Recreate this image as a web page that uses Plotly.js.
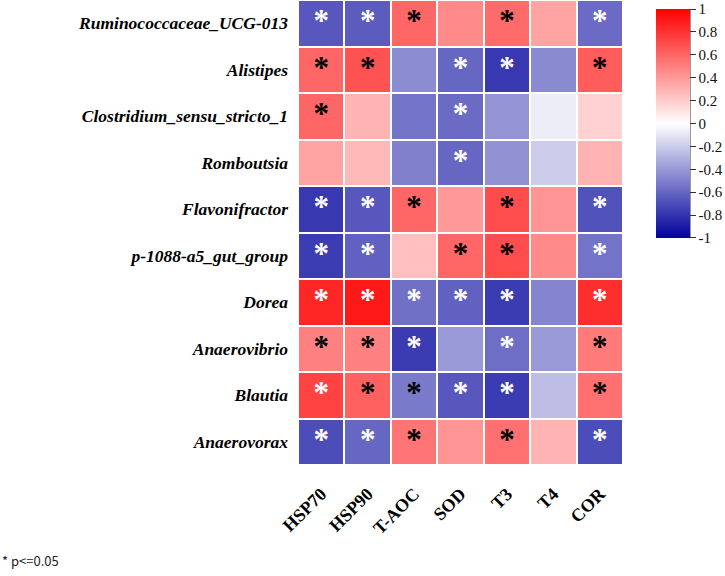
<!DOCTYPE html>
<html>
<head>
<meta charset="utf-8">
<script src="https://cdn.plot.ly/plotly-3.0.1.min.js"></script>
<style>
  html, body { margin: 0; padding: 0; background: #fff; }
  #chart { width: 725px; height: 576px; }
</style>
</head>
<body>
<div id="chart"></div>
<script>
// Genera (rows) and physiological indices (columns)
const genera = [
  'Ruminococcaceae_UCG-013', 'Alistipes', 'Clostridium_sensu_stricto_1',
  'Romboutsia', 'Flavonifractor', 'p-1088-a5_gut_group', 'Dorea',
  'Anaerovibrio', 'Blautia', 'Anaerovorax'
];
const indices = ['HSP70', 'HSP90', 'T-AOC', 'SOD', 'T3', 'T4', 'COR'];

// Correlation coefficients, one array per genus (columns follow `indices`)
const rRuminococcaceae = [-0.66, -0.64, 0.60, 0.46, 0.58, 0.36, -0.58];
const rAlistipes       = [0.60, 0.68, -0.45, -0.60, -0.78, -0.46, 0.64];
const rClostridium     = [0.60, 0.30, -0.55, -0.58, -0.42, -0.07, 0.18];
const rRomboutsia      = [0.36, 0.28, -0.50, -0.60, -0.43, -0.20, 0.30];
const rFlavonifractor  = [-0.78, -0.66, 0.60, 0.40, 0.70, 0.42, -0.68];
const rP1088           = [-0.76, -0.62, 0.25, 0.60, 0.70, 0.46, -0.55];
const rDorea           = [0.85, 0.90, -0.56, -0.62, -0.77, -0.48, 0.82];
const rAnaerovibrio    = [0.50, 0.50, -0.77, -0.40, -0.57, -0.40, 0.52];
const rBlautia         = [0.74, 0.62, -0.52, -0.66, -0.77, -0.26, 0.56];
const rAnaerovorax     = [-0.70, -0.60, 0.54, 0.42, 0.56, 0.30, -0.70];

// Significance marks (p <= 0.05): 'w' white star, 'k' black star, '' none
const sigRuminococcaceae = ['w', 'w', 'k', '', 'k', '', 'w'];
const sigAlistipes       = ['k', 'k', '', 'w', 'w', '', 'k'];
const sigClostridium     = ['k', '', '', 'w', '', '', ''];
const sigRomboutsia      = ['', '', '', 'w', '', '', ''];
const sigFlavonifractor  = ['w', 'w', 'k', '', 'k', '', 'w'];
const sigP1088           = ['w', 'w', '', 'k', 'k', '', 'w'];
const sigDorea           = ['w', 'w', 'w', 'w', 'w', '', 'w'];
const sigAnaerovibrio    = ['k', 'k', 'w', '', 'w', '', 'k'];
const sigBlautia         = ['w', 'k', 'k', 'w', 'w', '', 'k'];
const sigAnaerovorax     = ['w', 'w', 'k', '', 'k', '', 'w'];

const colorbarTicks = [-1, -0.8, -0.6, -0.4, -0.2, 0, 0.2, 0.4, 0.6, 0.8, 1];

const z = [rRuminococcaceae, rAlistipes, rClostridium, rRomboutsia, rFlavonifractor,
           rP1088, rDorea, rAnaerovibrio, rBlautia, rAnaerovorax];
const sig = [sigRuminococcaceae, sigAlistipes, sigClostridium, sigRomboutsia, sigFlavonifractor,
             sigP1088, sigDorea, sigAnaerovibrio, sigBlautia, sigAnaerovorax];

// Collect star positions by colour
const starsW = { x: [], y: [] }, starsK = { x: [], y: [] };
sig.forEach((row, i) => row.forEach((s, j) => {
  if (s === 'w') { starsW.x.push(indices[j]); starsW.y.push(genera[i]); }
  if (s === 'k') { starsK.x.push(indices[j]); starsK.y.push(genera[i]); }
}));

const serif = 'Liberation Serif, Times New Roman, serif';

// Keep the end ticks a hair inside the bar so both end labels are drawn
const cbTickVals = colorbarTicks.map(v => v === 1 ? 0.9999 : (v === -1 ? -0.9999 : v));

// Colour bar placement (pixels from the top of the plot area)
const cbTop = 9, cbBottom = 238;

const heat = {
  type: 'heatmap',
  x: indices, y: genera, z: z,
  zmin: -1, zmax: 1,
  xgap: 2, ygap: 2,
  colorscale: [[0, 'rgb(0,0,155)'], [0.5, 'rgb(255,255,255)'], [1, 'rgb(255,0,0)']],
  hoverongaps: false,
  colorbar: {
    thickness: 34,
    lenmode: 'pixels', len: cbBottom - cbTop,
    x: 1.1015, xanchor: 'left',
    y: 1 - cbTop / 465, yanchor: 'top',
    outlinewidth: 0,
    tickmode: 'array', tickvals: cbTickVals,
    ticktext: colorbarTicks.map(v => String(v)),
    ticklabeloverflow: 'allow',
    ticks: 'outside', ticklen: 6, tickwidth: 1, tickcolor: '#333',
    tickfont: { family: serif, size: 15, color: '#111' },
    xpad: 0, ypad: 0
  }
};

function starTrace(pts, color) {
  return {
    type: 'scatter', mode: 'text',
    x: pts.x, y: pts.y,
    text: pts.x.map(() => '*'),
    textposition: 'middle center',
    textfont: { family: serif, size: 31, color: color, weight: 'bold' },
    hoverinfo: 'skip', showlegend: false
  };
}

const layout = {
  width: 725, height: 576,
  margin: { l: 298, r: 102, t: 0, b: 111 },
  paper_bgcolor: '#ffffff', plot_bgcolor: '#ffffff',
  showlegend: false,
  xaxis: {
    type: 'category', tickangle: -45, showgrid: false, zeroline: false,
    ticks: '', showline: false, ticklabelstandoff: 14,
    tickfont: { family: serif, size: 18, color: '#000', weight: 'bold' }
  },
  yaxis: {
    type: 'category', autorange: 'reversed', showgrid: false, zeroline: false,
    ticks: '', showline: false, ticklabelstandoff: 9,
    tickfont: { family: serif, size: 17.5, color: '#000', weight: 'bold', style: 'italic' }
  },
  shapes: [{
    type: 'line', xref: 'paper', yref: 'paper',
    x0: (690 - 298) / 325, x1: (690 - 298) / 325,
    y0: 1 - cbTop / 465, y1: 1 - cbBottom / 465,
    line: { color: '#333', width: 1 }
  }],
  annotations: [{
    xref: 'paper', yref: 'paper',
    x: -298 / 325, y: (465 - 560) / 465,
    xanchor: 'left', yanchor: 'middle',
    text: '* p<=0.05', showarrow: false,
    font: { family: 'Noto Sans CJK SC, sans-serif', size: 13, color: '#222' }
  }]
};

Plotly.newPlot('chart', [heat, starTrace(starsW, '#ffffff'), starTrace(starsK, '#000000')],
  layout, { displayModeBar: false, staticPlot: true });
</script>
</body>
</html>
